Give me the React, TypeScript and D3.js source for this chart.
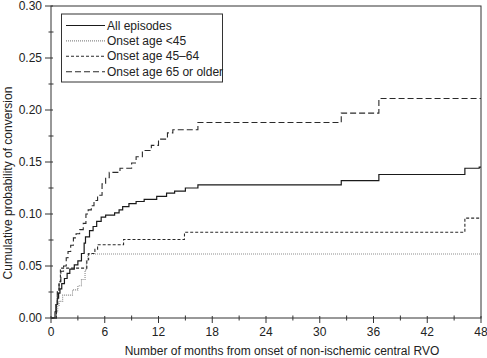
import React from "react";
import * as d3 from "d3";

const xTicks = [0, 6, 12, 18, 24, 30, 36, 42, 48];
const yTicks = [0, 0.05, 0.1, 0.15, 0.2, 0.25, 0.3];

const allEpisodes: [number, number][] = [
  [0, 0], [0.45, 0.006], [0.55, 0.013], [0.7, 0.019], [0.85, 0.024], [1.0, 0.028], [1.2, 0.033],
  [1.5, 0.038], [1.8, 0.043], [2.1, 0.047], [2.6, 0.051], [3.0, 0.055], [3.4, 0.062], [3.7, 0.072],
  [3.85, 0.078], [4.3, 0.084], [4.7, 0.088], [5.1, 0.093], [5.6, 0.097], [6.1, 0.099], [7.1, 0.101],
  [7.6, 0.104], [8.0, 0.107], [8.7, 0.11], [9.5, 0.112], [10.4, 0.114], [11.8, 0.117], [12.9, 0.12],
  [13.8, 0.122], [15.0, 0.125], [16.4, 0.128], [32.4, 0.132], [36.6, 0.138], [46.2, 0.144],
  [47.8, 0.145], [48, 0.145],
];

const ageUnder45: [number, number][] = [
  [0, 0], [0.6, 0.006], [0.75, 0.012], [0.9, 0.016], [1.3, 0.022], [2.4, 0.027], [3.0, 0.031],
  [3.4, 0.037], [3.8, 0.046], [3.95, 0.055], [4.1, 0.0615], [48, 0.0615],
];

const age45to64: [number, number][] = [
  [0, 0], [0.6, 0.012], [0.75, 0.025], [0.9, 0.035], [1.05, 0.048], [4.0, 0.056], [4.2, 0.062],
  [4.9, 0.066], [5.2, 0.0705], [8.1, 0.0755], [14.9, 0.0825], [46.2, 0.096], [48, 0.096],
];

const age65plus: [number, number][] = [
  [0, 0], [0.6, 0.013], [0.7, 0.027], [0.9, 0.035], [1.1, 0.045], [1.4, 0.05], [1.7, 0.058],
  [1.9, 0.064], [2.2, 0.07], [2.5, 0.077], [2.8, 0.081], [3.2, 0.085], [3.6, 0.091], [3.9, 0.1],
  [4.15, 0.104], [4.5, 0.108], [4.8, 0.113], [5.2, 0.118], [5.7, 0.129], [6.1, 0.135], [6.5, 0.14],
  [7.7, 0.144], [9.0, 0.149], [9.5, 0.155], [10.2, 0.161], [11.2, 0.166], [12.0, 0.172],
  [13.0, 0.178], [13.6, 0.181], [16.4, 0.188], [32.4, 0.197], [36.6, 0.211], [48, 0.211],
];

const seriesNames = ["All episodes", "Onset age <45", "Onset age 45\u201364", "Onset age 65 or older"];
const seriesData = [allEpisodes, ageUnder45, age45to64, age65plus];
const seriesStyles = [
  { stroke: "#1a1a1a", dash: "", width: 1.2 },
  { stroke: "#8a8a8a", dash: "1,1", width: 1.1 },
  { stroke: "#2a2a2a", dash: "3,2", width: 1.1 },
  { stroke: "#2a2a2a", dash: "6,3", width: 1.1 },
];

export default function App() {
  const W = 487, H = 358;
  const x = d3.scaleLinear().domain([0, 48]).range([51, 481]);
  const y = d3.scaleLinear().domain([0, 0.3]).range([318, 6]);
  const line = d3.line<[number, number]>().x(d => x(d[0])).y(d => y(d[1])).curve(d3.curveStepAfter);
  const minorX = d3.range(3, 48, 6);
  const minorY = d3.range(0.025, 0.3, 0.05);
  const font = "Liberation Sans, Arial, Helvetica, sans-serif";
  const axisColor = "#333";
  return (
    <svg width={W} height={H} style={{ position: "absolute", left: 0, top: 0 }} fontFamily={font}>
      <rect x={0} y={0} width={W} height={H} fill="#fff" />
      {seriesData.map((d, i) => (
        <path key={i} d={line(d) || ""} fill="none" stroke={seriesStyles[i].stroke}
          strokeWidth={seriesStyles[i].width} strokeDasharray={seriesStyles[i].dash} />
      ))}
      <rect x={x(0)} y={y(0.3)} width={x(48) - x(0)} height={y(0) - y(0.3)} fill="none" stroke={axisColor} strokeWidth={1} />
      {xTicks.map(t => (
        <g key={"x" + t}>
          <line x1={x(t)} x2={x(t)} y1={y(0) - 2} y2={y(0) + 5} stroke={axisColor} />
          <text x={x(t)} y={y(0) + 18} fontSize={12} textAnchor="middle" fill="#222">{t}</text>
        </g>
      ))}
      {minorX.map(t => (
        <line key={"mx" + t} x1={x(t)} x2={x(t)} y1={y(0) - 2.5} y2={y(0) + 2.5} stroke={axisColor} />
      ))}
      {yTicks.map(t => (
        <g key={"y" + t}>
          <line x1={x(0) - 6} x2={x(0) + 2} y1={y(t)} y2={y(t)} stroke={axisColor} />
          <text x={x(0) - 9} y={y(t) + 4} fontSize={12} textAnchor="end" fill="#222">{t.toFixed(2)}</text>
        </g>
      ))}
      {minorY.map(t => (
        <line key={"my" + t} x1={x(0) - 2.5} x2={x(0) + 2.5} y1={y(t)} y2={y(t)} stroke={axisColor} />
      ))}
      <text x={282} y={355} fontSize={12} textAnchor="middle" fill="#222">
        Number of months from onset of non-ischemic central RVO
      </text>
      <text transform="translate(12,183) rotate(-90)" fontSize={12} textAnchor="middle" fill="#222">
        Cumulative probability of conversion
      </text>
      <rect x={61.5} y={14} width={161} height={68} fill="#fff" stroke={axisColor} strokeWidth={1} />
      {seriesNames.map((n, i) => {
        const cy = 25.5 + i * 15.4;
        return (
          <g key={n}>
            <line x1={66} x2={105} y1={cy} y2={cy} stroke={seriesStyles[i].stroke}
              strokeWidth={seriesStyles[i].width} strokeDasharray={seriesStyles[i].dash} />
            <text x={107} y={cy + 4} fontSize={12} fill="#222">{n}</text>
          </g>
        );
      })}
    </svg>
  );
}
